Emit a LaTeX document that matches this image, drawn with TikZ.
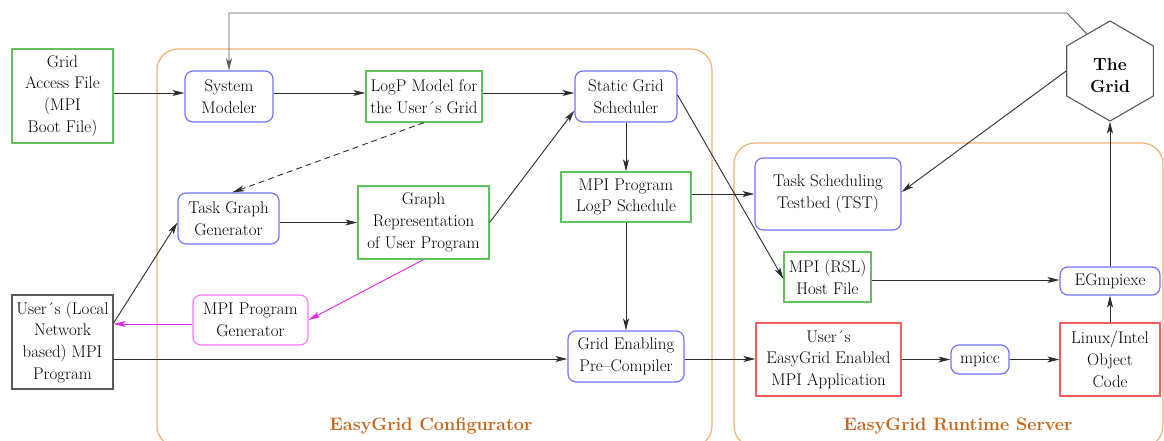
\documentclass[tikz,border=0pt]{standalone}
\usepackage{fontspec}
\usetikzlibrary{arrows.meta,shapes.geometric}
\definecolor{cgreen}{RGB}{95,195,95}
\definecolor{cblue}{RGB}{115,115,255}
\definecolor{cred}{RGB}{240,95,95}
\definecolor{cmagb}{RGB}{255,120,255}
\definecolor{cmagl}{RGB}{230,40,230}
\definecolor{cgray}{RGB}{90,90,90}
\definecolor{cframe}{RGB}{240,178,115}
\definecolor{clabel}{RGB}{200,100,25}
\definecolor{cline}{RGB}{45,45,45}
\begin{document}
\begin{tikzpicture}[x=1pt,y=-1pt,
  base/.style={draw, line width=1.2pt, align=center, inner sep=0pt, text=black,
    font=\fontsize{16.9}{21.7}\selectfont},
  gbox/.style={base, draw=cgreen},
  bbox/.style={base, draw=cblue, rounded corners=8pt},
  rbox/.style={base, draw=cred},
  mbox/.style={base, draw=cmagb, rounded corners=8pt},
  kbox/.style={base, draw=cgray},
  conn/.style={draw=cline, line width=0.9pt, -{Stealth[length=12pt,width=6pt,inset=3pt]}},
  mconn/.style={conn, draw=cmagl, fill=cmagl},
  frame/.style={draw=cframe, line width=1.2pt, rounded corners=21pt},
  flabel/.style={text=clabel, font=\fontsize{18}{22}\selectfont\bfseries}
]
\useasboundingbox (0,0) rectangle (1164,441);

% frames
\draw[frame] (157,49) rectangle (712,447);
\draw[frame] (734,143) rectangle (1163,447);
\node[flabel] (lconf) at (431,426) {EasyGrid Configurator};
\node[flabel] (lrun) at (958,426) {EasyGrid Runtime Server};

% nodes
\node[gbox, minimum width=101pt, minimum height=94pt] (access) at (62.5,96) {Grid\\Access File\\(MPI\\Boot File)};
\node[bbox, minimum width=88pt, minimum height=51pt] (sysmod) at (229,96.5) {System\\Modeler};
\node[gbox, minimum width=116pt, minimum height=51pt] (logp) at (424,96.5) {LogP Model for\\the User´s Grid};
\node[bbox, minimum width=102pt, minimum height=51pt] (static) at (626,96.5) {Static Grid\\Scheduler};
\node[bbox, minimum width=101pt, minimum height=51pt] (taskgraph) at (228.5,218.5) {Task Graph\\Generator};
\node[gbox, minimum width=131pt, minimum height=73pt] (graphrep) at (423.5,222.5) {Graph\\Representation\\of User Program};
\node[gbox, minimum width=130pt, minimum height=50pt] (mpilogp) at (626,197) {MPI Program\\LogP Schedule};
\node[kbox, minimum width=101pt, minimum height=94pt] (users) at (62.5,342) {User´s (Local\\Network\\based) MPI\\Program};
\node[mbox, minimum width=115pt, minimum height=50pt] (mpigen) at (250.5,320) {MPI Program\\Generator};
\node[bbox, minimum width=116pt, minimum height=51pt] (gridenab) at (626,356.5) {Grid Enabling\\Pre–Compiler};
\node[bbox, minimum width=146pt, minimum height=72pt] (tst) at (828,194) {Task Scheduling\\Testbed (TST)};
\node[gbox, minimum width=87pt, minimum height=50pt] (hostfile) at (827.5,277) {MPI (RSL)\\Host File};
\node[rbox, minimum width=145pt, minimum height=73pt] (usereg) at (828.5,359.5) {User´s\\EasyGrid Enabled\\MPI Application};
\node[bbox, minimum width=58pt, minimum height=29pt] (mpicc) at (980,359.5) {mpicc};
\node[rbox, minimum width=100pt, minimum height=73pt] (linux) at (1110,359.5) {Linux/Intel\\Object\\Code};
\node[bbox, minimum width=100pt, minimum height=28pt] (egmpiexe) at (1110,281) {EGmpiexe};
\node[draw=cgray, line width=1.1pt, regular polygon, regular polygon sides=6, shape border rotate=30,
  minimum size=100pt, inner sep=0pt] (grid) at (1110,71) {};
\node[align=center, inner sep=0pt, font=\fontsize{17.5}{22}\selectfont\bfseries] (gridtext) at (1110,76) {The\\Grid};
\coordinate (topbend) at (1067,13);

% connectors
\draw[conn] ([yshift=3pt]access.east) -- ([yshift=3pt]access.east -| sysmod.west);
\draw[conn] ([yshift=3.5pt]sysmod.east) -- ([yshift=3.5pt]logp.west);
\draw[conn] ([yshift=3.5pt]logp.east) -- ([yshift=3.5pt]static.west);
\draw[conn, dash pattern=on 6pt off 4pt] (logp.south) -- ([xshift=4pt]taskgraph.north);
\draw[conn] (taskgraph.east |- graphrep.west) -- (graphrep.west);
\draw[conn] (graphrep.east) -- ([yshift=12pt]static.south west);
\draw[conn] (static.south) -- (mpilogp.north);
\draw[conn] (mpilogp.east |- tst.west) -- (tst.west);
\draw[conn] ([yshift=1.5pt]static.east) -- ([yshift=-2pt]hostfile.west);
\draw[conn] (mpilogp.south) -- (gridenab.north);
\draw[conn] ([yshift=19pt]users.east) -- ([yshift=-4pt]taskgraph.west);
\draw[mconn] (graphrep.south) -- (mpigen.east);
\draw[mconn] ([yshift=-4pt]mpigen.west) -- ([yshift=-4pt]mpigen.west -| users.east);
\draw[conn] ([yshift=-2.5pt]gridenab.west -| users.east) -- ([yshift=-2.5pt]gridenab.west);
\draw[conn] ([yshift=-2.5pt]gridenab.east) -- ([yshift=-2.5pt]gridenab.east -| usereg.west);
\draw[conn] (usereg.east) -- (mpicc.west);
\draw[conn] (mpicc.east) -- (linux.west);
\draw[conn] (linux.north) -- (egmpiexe.south);
\draw[conn] (egmpiexe.north) -- (grid.270);
\draw[conn] ([yshift=-3pt]hostfile.east) -- ([yshift=-3pt]hostfile.east -| egmpiexe.west);
\draw[conn] (grid.180) -- ([yshift=2pt]tst.east);
\draw[conn, draw=cgray] (grid.122) -- (topbend) -| (sysmod.north);
\end{tikzpicture}
\end{document}
